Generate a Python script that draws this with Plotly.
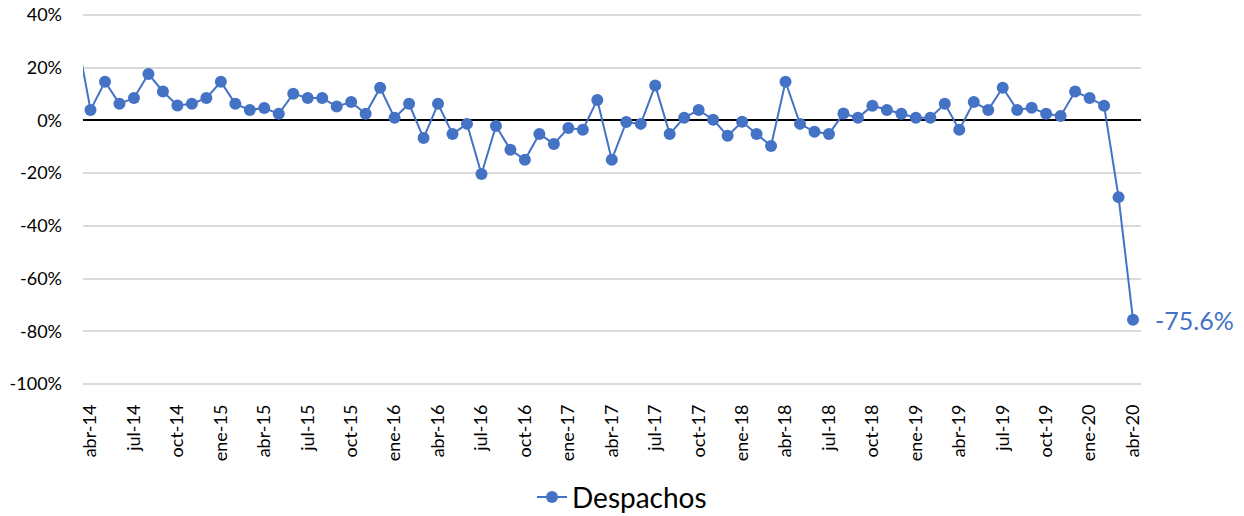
import plotly.graph_objects as go

months_es = ["ene", "feb", "mar", "abr", "may", "jun", "jul", "ago", "sep", "oct", "nov", "dic"]
categories = []
y, m = 2014, 2  # start at mar-14 (index 2)
while (y, m) <= (2020, 3):
    categories.append(f"{months_es[m]}-{str(y)[2:]}")
    m += 1
    if m == 12:
        m = 0
        y += 1

# Year-on-year change (%) of Despachos, mar-14 .. abr-20
values = [
    33.5,                                                   # mar-14
    4.0, 14.7, 6.3, 8.5, 17.6, 11.0, 5.7, 6.3, 8.5,         # abr-14 .. dic-14
    14.7, 6.3, 4.0, 4.7, 2.5, 10.1, 8.5, 8.5, 5.3, 7.0, 2.5, 12.4,   # 2015
    1.0, 6.3, -6.7, 6.3, -5.1, -1.3, -20.3, -2.1, -11.1, -14.9, -5.1, -8.9,  # 2016
    -2.9, -3.5, 7.8, -14.9, -0.6, -1.3, 13.3, -5.1, 1.0, 4.0, 0.3, -5.8,    # 2017
    -0.5, -5.1, -9.7, 14.7, -1.3, -4.3, -5.1, 2.6, 1.0, 5.6, 4.0, 2.5,      # 2018
    1.0, 1.0, 6.3, -3.5, 7.0, 4.0, 12.4, 4.0, 4.8, 2.5, 1.7, 11.0,          # 2019
    8.5, 5.6, -29.1, -75.6,                                                  # 2020
]

tick_labels = categories[1::3]
y_ticks = [40, 20, 0, -20, -40, -60, -80, -100]
y_tick_text = [f"{v}%" for v in y_ticks]
last_label = "-75.6%"

BLUE = "#4472C4"
FONT = "Lato"

fig = go.Figure()
fig.add_trace(go.Scatter(
    x=categories, y=values, mode="lines+markers", name="Despachos",
    line=dict(color=BLUE, width=2),
    marker=dict(color=BLUE, size=12),
    cliponaxis=True,
))

fig.add_annotation(
    x=categories[-1], y=values[-1], text=last_label, showarrow=False,
    xanchor="left", yanchor="middle", xshift=20,
    font=dict(family=FONT, size=25, color=BLUE),
)

fig.update_layout(
    width=1244, height=516,
    margin=dict(l=83, r=103, t=14, b=131, autoexpand=False),
    plot_bgcolor="white", paper_bgcolor="white",
    font=dict(family=FONT, size=18, color="#000000"),
    showlegend=True,
    legend=dict(
        orientation="h", x=0.50, xanchor="center", xref="container",
        y=-0.303, yanchor="middle", yref="paper",
        font=dict(family=FONT, size=28, color="#000000"),
    ),
    xaxis=dict(
        type="category", automargin=False,
        range=[0.48, len(categories) - 1 + 0.55],
        tickmode="array", tickvals=tick_labels, ticktext=tick_labels,
        tickangle=-90, showgrid=False, zeroline=False, showline=False,
        ticks="", ticklabelstandoff=15,
        tickfont=dict(family=FONT, size=18, color="#000000"),
    ),
    yaxis=dict(
        automargin=False, ticklabeloverflow="allow",
        range=[-100.4, 40.4], tickmode="array", tickvals=y_ticks, ticktext=y_tick_text,
        showgrid=True, gridcolor="#D9D9D9", gridwidth=1.5,
        zeroline=True, zerolinecolor="#000000", zerolinewidth=2,
        showline=False, ticks="", ticklabelstandoff=20,
        tickfont=dict(family=FONT, size=18, color="#000000"),
    ),
)

fig.write_html(
    "out.html",
    config={"displayModeBar": False},
    post_script="document.body.style.margin='0';document.body.style.overflow='hidden';",
)
